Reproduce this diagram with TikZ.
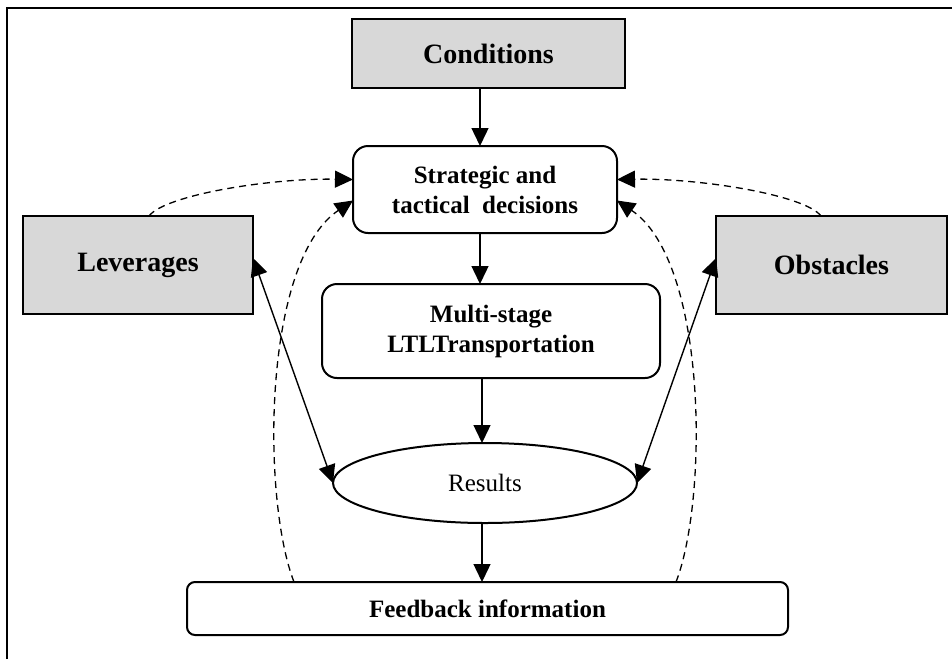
\documentclass[tikz,border=0pt]{standalone}
\usepackage{fontspec}
\setmainfont{Liberation Serif}
\usetikzlibrary{arrows.meta,shapes.geometric}
\definecolor{boxgray}{HTML}{D8D8D8}
\begin{document}
\begin{tikzpicture}[x=1pt,y=-1pt,
  every node/.style={inner sep=0pt,outer sep=0pt,align=center,font=\fontsize{25}{30}\selectfont\bfseries},
  graybox/.style={draw,line width=2pt,fill=boxgray,rectangle,font=\fontsize{28}{32}\selectfont\bfseries},
  roundbox/.style={draw,line width=2pt,rectangle,rounded corners=15pt},
  tiphead/.style={Triangle[length=18pt,width=17pt]},
  tip/.style={-{Triangle[length=18pt,width=17pt]}},
  dtip/.style={{Triangle[length=18pt,width=17pt]}-{Triangle[length=18pt,width=17pt]}},
  conn/.style={line width=1.4pt},
  dconn/.style={line width=1.3pt,dash pattern=on 7pt off 5pt}]
\useasboundingbox (0,0) rectangle (952,659);
\draw[line width=2pt] (7,659) -- (7,8) -- (952,8);
\node[graybox,minimum width=273pt,minimum height=69pt] (cond) at (488.5,53.5) {Conditions};
\node[roundbox,minimum width=264pt,minimum height=87pt] (str) at (485,189.5) {Strategic and\\tactical\ \ decisions};
\node[graybox,minimum width=230pt,minimum height=98pt] (lev) at (138,265) {Leverages};
\node[graybox,minimum width=231pt,minimum height=98pt] (obs) at (831.5,265) {Obstacles};
\node[roundbox,minimum width=338pt,minimum height=94pt] (multi) at (491,331) {Multi-stage\\LTLTransportation};
\node[draw,line width=2pt,ellipse,minimum width=304pt,minimum height=80pt,font=\fontsize{25}{30}\selectfont] (res) at (485,483) {Results};
\node[roundbox,rounded corners=8pt,minimum width=601pt,minimum height=53pt] (fb) at (487.5,608.5) {Feedback information};
% main flow
\draw[conn,tip] ([xshift=-8.5pt]cond.south) -- ([xshift=-5pt]str.north);
\draw[conn,tip] ([xshift=-5pt]str.south) -- ([xshift=-11pt]multi.north);
\draw[conn,tip] ([xshift=-9pt]multi.south) -- ([xshift=-3pt]res.north);
\draw[conn,tip] ([xshift=-3pt]res.south) -- ([xshift=-5.5pt]fb.north);
% solid double arrows
\draw[conn,dtip] ([yshift=7pt]lev.east) -- (res.west);
\draw[conn,dtip] ([yshift=7pt]obs.west) -- (res.east);
% dashed feedback curves
\draw[dconn,tip] ([xshift=11pt]lev.north) .. controls (165,195) and (270,178) .. ([yshift=10pt]str.west);
\draw[dconn,tip] ([xshift=-10.5pt]obs.north) .. controls (805,195) and (700,178) .. ([yshift=10pt]str.east);
\draw[dconn,tip] ([xshift=-193.5pt]fb.north) .. controls (262,500) and (262,262) .. ([yshift=-11pt]str.west);
\draw[dconn,tip] ([xshift=188.5pt]fb.north) .. controls (708,500) and (708,262) .. ([yshift=-11pt]str.east);
\end{tikzpicture}
\end{document}
